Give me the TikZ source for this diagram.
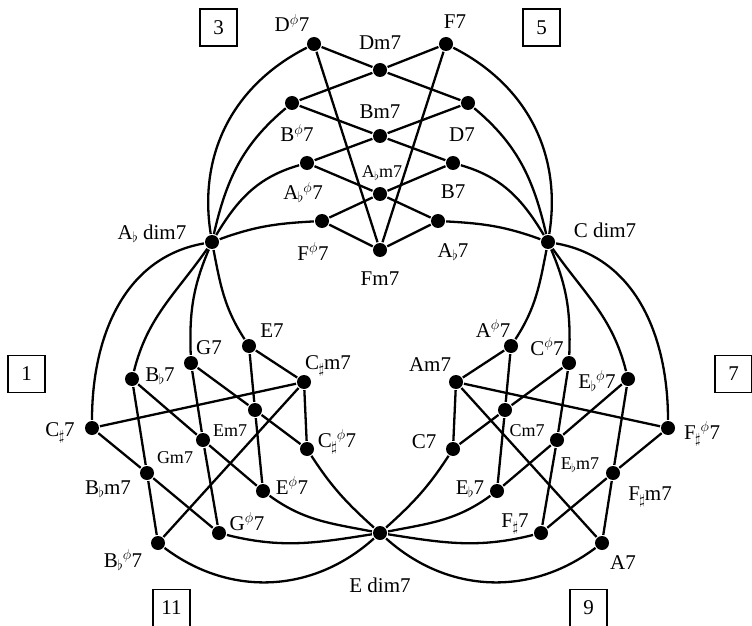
\documentclass[tikz,border=0pt]{standalone}
\usepackage{fontspec}
\setmainfont{Liberation Serif}
\newcommand\fl{\kern-0.5pt\raisebox{-3pt}{$\scriptstyle\flat$}}
\newcommand\shp{\kern-0.5pt\raisebox{-4.5pt}{$\scriptstyle\sharp$}}
\newcommand\hdim{$^{\phi}$}
\begin{document}
\begin{tikzpicture}[x=1pt,y=1pt,line width=2.3pt,
  dot/.style={circle,fill=black,inner sep=0pt,minimum size=14pt},
  lbl/.style={inner sep=0pt,font=\fontsize{21}{25}\selectfont,text height=14pt,text depth=0pt},
  slbl/.style={inner sep=0pt,font=\fontsize{18}{21}\selectfont,text height=12pt,text depth=0pt},
  numbox/.style={draw,line width=1.7pt,minimum width=37pt,minimum height=37pt,inner sep=0pt,font=\fontsize{21}{25}\selectfont}]
\useasboundingbox (0,0) rectangle (752,625);
% diminished chords
\node[dot] (Adim) at (212,383) {};
\node[dot] (Cdim) at (548,383) {};
\node[dot] (Edim) at (380,92) {};
% top cluster
\node[dot] (Dhd) at (314,581) {};
\node[dot] (F7) at (446,581) {};
\node[dot] (Dm7) at (380,555) {};
\node[dot] (Bhd) at (292,522) {};
\node[dot] (D7) at (468,522) {};
\node[dot] (Bm7) at (380,489) {};
\node[dot] (Abhd) at (307,462) {};
\node[dot] (B7) at (453,462) {};
\node[dot] (Abm7) at (380,431) {};
\node[dot] (Fhd) at (322,404) {};
\node[dot] (Ab7) at (438,404) {};
\node[dot] (Fm7) at (380,375) {};
% left cluster
\node[dot] (Cs7) at (92,197) {};
\node[dot] (Bb7) at (132,246) {};
\node[dot] (G7) at (191,262) {};
\node[dot] (E7) at (249,279) {};
\node[dot] (Csm7) at (304,243) {};
\node[dot] (Em7) at (255,215) {};
\node[dot] (Gm7) at (203,185) {};
\node[dot] (Bbm7) at (147,152) {};
\node[dot] (Cshd) at (307,176) {};
\node[dot] (Ehd) at (263,134) {};
\node[dot] (Ghd) at (219,92) {};
\node[dot] (Bbhd) at (158,82) {};
% right cluster
\node[dot] (Fshd) at (668,197) {};
\node[dot] (Ebhd) at (628,246) {};
\node[dot] (Chd) at (569,262) {};
\node[dot] (Ahd) at (511,279) {};
\node[dot] (Am7) at (456,243) {};
\node[dot] (Cm7) at (505,215) {};
\node[dot] (Ebm7) at (557,185) {};
\node[dot] (Fsm7) at (613,152) {};
\node[dot] (C7) at (453,176) {};
\node[dot] (Eb7) at (497,134) {};
\node[dot] (Fs7) at (541,92) {};
\node[dot] (A7) at (602,82) {};
% top straight edges
\draw (Dhd)--(Dm7); \draw (Dm7)--(D7);
\draw (F7)--(Dm7); \draw (Dm7)--(Bhd);
\draw (Bhd)--(Bm7); \draw (Bm7)--(B7);
\draw (D7)--(Bm7); \draw (Bm7)--(Abhd);
\draw (Abhd)--(Abm7); \draw (Abm7)--(Ab7);
\draw (B7)--(Abm7); \draw (Abm7)--(Fhd);
\draw (Fhd)--(Fm7); \draw (Fm7)--(Ab7);
\draw (Dhd)--(Fm7); \draw (F7)--(Fm7);
% left straight edges
\draw (Csm7)--(Cshd); \draw (Csm7)--(Cs7); \draw (Csm7)--(E7); \draw (Csm7)--(Bbhd);
\draw (Em7)--(Ehd); \draw (Em7)--(E7); \draw (Em7)--(G7); \draw (Em7)--(Cshd);
\draw (Gm7)--(Ghd); \draw (Gm7)--(G7); \draw (Gm7)--(Bb7); \draw (Gm7)--(Ehd);
\draw (Bbm7)--(Bbhd); \draw (Bbm7)--(Bb7); \draw (Bbm7)--(Cs7); \draw (Bbm7)--(Ghd);
% right straight edges
\draw (Am7)--(Ahd); \draw (Am7)--(A7); \draw (Am7)--(C7); \draw (Am7)--(Fshd);
\draw (Cm7)--(Chd); \draw (Cm7)--(C7); \draw (Cm7)--(Eb7); \draw (Cm7)--(Ahd);
\draw (Ebm7)--(Ebhd); \draw (Ebm7)--(Eb7); \draw (Ebm7)--(Fs7); \draw (Ebm7)--(Chd);
\draw (Fsm7)--(Fshd); \draw (Fsm7)--(Fs7); \draw (Fsm7)--(A7); \draw (Fsm7)--(Ebhd);
% curves from Ab dim7
\draw (Adim) to[out=99,in=207] (Dhd);
\draw (Adim) to[out=77,in=220] (Bhd);
\draw (Adim) to[out=59,in=196] (Abhd);
\draw (Adim) to[out=20,in=183] (Fhd);
\draw (Adim) to[out=190,in=90] (Cs7);
\draw (Adim) to[out=235,in=76] (Bb7);
\draw (Adim) to[out=247,in=92] (G7);
\draw (Adim) to[out=281,in=123] (E7);
% curves from C dim7
\draw (Cdim) to[out=81,in=-27] (F7);
\draw (Cdim) to[out=103,in=-40] (D7);
\draw (Cdim) to[out=121,in=-16] (B7);
\draw (Cdim) to[out=160,in=-3] (Ab7);
\draw (Cdim) to[out=-10,in=90] (Fshd);
\draw (Cdim) to[out=-55,in=104] (Ebhd);
\draw (Cdim) to[out=-67,in=88] (Chd);
\draw (Cdim) to[out=259,in=57] (Ahd);
% curves from E dim7
\draw (Edim) to[out=138,in=-57] (Cshd);
\draw (Edim) to[out=169,in=-36] (Ehd);
\draw (Edim) to[out=189,in=-14] (Ghd);
\draw (Edim) to[out=222,in=-37] (Bbhd);
\draw (Edim) to[out=42,in=237] (C7);
\draw (Edim) to[out=11,in=216] (Eb7);
\draw (Edim) to[out=-9,in=194] (Fs7);
\draw (Edim) to[out=-42,in=217] (A7);
% labels
\node[lbl] (tAdim) at (152,393) {A\fl\ dim7};
\node[lbl] (tCdim) at (605,395) {C dim7};
\node[lbl] (tEdim) at (380,40) {E dim7};
\node[lbl] (tDhd) at (292,600) {D\hdim7};
\node[lbl] (tF7) at (455,603) {F7};
\node[lbl] (tDm7) at (380,582) {Dm7};
\node[lbl] (tBm7) at (380,513) {Bm7};
\node[lbl] (tBhd) at (297,490) {B\hdim7};
\node[lbl] (tD7) at (462,490) {D7};
\node[slbl] (tAbm7) at (382,453) {A\fl m7};
\node[lbl] (tAbhd) at (303,432) {A\fl\hdim7};
\node[lbl] (tB7) at (453,433) {B7};
\node[lbl] (tFhd) at (313,372) {F\hdim7};
\node[lbl] (tAb7) at (453,375) {A\fl7};
\node[lbl] (tFm7) at (380,347) {Fm7};
\node[lbl] (tE7) at (272,295) {E7};
\node[lbl] (tG7) at (209,278) {G7};
\node[lbl] (tBb7) at (160,251) {B\fl7};
\node[lbl] (tCsm7) at (328,263) {C\shp m7};
\node[lbl] (tCs7) at (60,196) {C\shp7};
\node[slbl] (tEm7) at (230,195) {Em7};
\node[slbl] (tGm7) at (175,168) {Gm7};
\node[lbl] (tBbm7) at (108,138) {B\fl m7};
\node[lbl] (tCshd) at (337,185) {C\shp\hdim7};
\node[lbl] (tEhd) at (292,138) {E\hdim7};
\node[lbl] (tGhd) at (247,102) {G\hdim7};
\node[lbl] (tBbhd) at (123,65) {B\fl\hdim7};
\node[lbl] (tAhd) at (493,295) {A\hdim7};
\node[lbl] (tChd) at (547,277) {C\hdim7};
\node[lbl] (tEbhd) at (597,244) {E\fl\hdim7};
\node[lbl] (tAm7) at (430,261) {Am7};
\node[slbl] (tCm7) at (527,195) {Cm7};
\node[lbl] (tC7) at (424,184) {C7};
\node[slbl] (tEbm7) at (580,162) {E\fl m7};
\node[lbl] (tFshd) at (702,193) {F\shp\hdim7};
\node[lbl] (tFsm7) at (650,132) {F\shp m7};
\node[lbl] (tEb7) at (470,138) {E\fl7};
\node[lbl] (tFs7) at (515,105) {F\shp7};
\node[lbl] (tA7) at (623,63) {A7};
% boxes
\node[numbox] (b1) at (26.5,251) {1};
\node[numbox] (b7) at (733.5,251) {7};
\node[numbox] (b3) at (218.5,597.5) {3};
\node[numbox] (b5) at (541.5,597.5) {5};
\node[numbox] (b11) at (171.5,17) {11};
\node[numbox] (b9) at (588.5,17) {9};
\end{tikzpicture}
\end{document}
